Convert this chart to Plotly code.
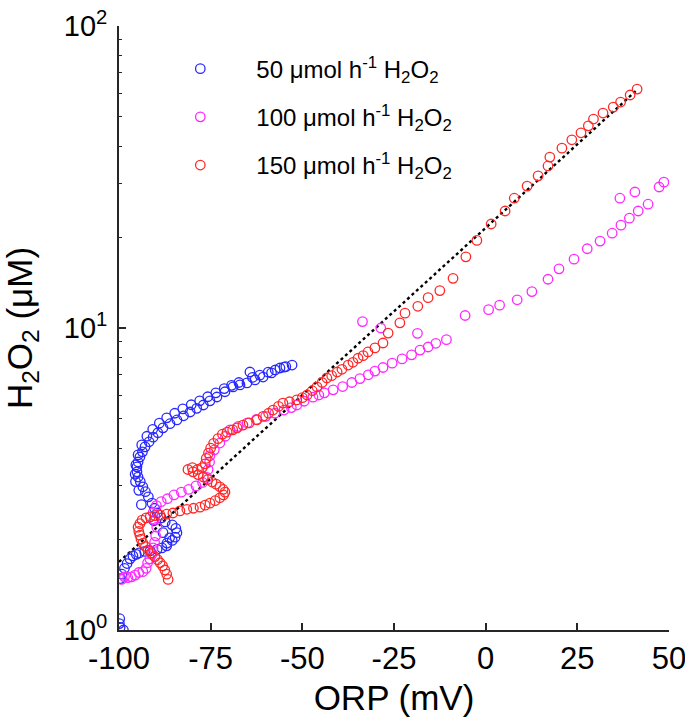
import plotly.graph_objects as go

# ---- data ----
blue_x = [-99.8, -99.9, -99.7, -98.8,
          -99.6, -99.2, -98.5, -97.8, -97.0, -96.2, -95.3, -94.5, -93.0, -91.5, -89.6, -88.3, -87.0,
          -86.9, -85.5, -84.7, -84.2, -84.5, -85.5, -87.4, -88.5, -89.6, -90.3, -91.0, -92.0, -92.8,
          -93.5, -94.2, -94.8, -95.1, -95.1, -94.8, -94.3, -93.6, -92.9, -91.8, -90.7, -89.4, -88.0,
          -86.1, -84.2, -82.4, -80.6, -78.8, -77.0, -75.2, -73.3, -71.1, -68.9, -67.0, -65.1, -62.9,
          -60.7, -58.4, -56.1, -54.5, -52.8, -64.3,
          -95.6, -95.4, -94.8, -93.8, -92.4, -90.8, -89.0, -87.0, -84.8, -82.6, -80.3, -78.0, -75.8,
          -73.6, -71.3, -69.3, -67.3, -63.6, -61.6, -59.3, -57.4, -55.0,
          -93.9, -94.6, -95.5, -90.5, -88.0, -86.2]
blue_y = [1.09, 1.05, 1.02, 1.00,
          1.48, 1.53, 1.60, 1.66, 1.72, 1.76, 1.78, 1.80, 1.82, 1.83, 1.85, 1.87, 1.90,
          1.94, 1.98, 2.03, 2.10, 2.17, 2.23, 2.28, 2.35, 2.44, 2.53, 2.63, 2.76, 2.87,
          2.98, 3.10, 3.21, 3.34, 3.47, 3.60, 3.74, 3.89, 4.04, 4.20, 4.35, 4.50, 4.67,
          4.82, 4.96, 5.12, 5.27, 5.42, 5.56, 5.74, 5.91, 6.15, 6.38, 6.48, 6.58, 6.73,
          6.88, 7.10, 7.37, 7.45, 7.54, 7.15,
          3.28, 3.52, 3.80, 4.10, 4.38, 4.62, 4.84, 5.04, 5.22, 5.40, 5.57, 5.74, 5.92,
          6.10, 6.30, 6.46, 6.60, 6.86, 6.98, 7.14, 7.26, 7.42,
          2.60, 2.90, 3.10, 2.30, 2.10, 2.02]

magenta_x = [-99.3, -98.5, -97.6, -96.6, -95.6, -94.6, -93.5, -92.6, -92.2, -91.6, -91.0, -90.7,
             -90.3, -90.0, -89.7, -90.4, -90.7, -89.8, -88.5, -86.8, -85.0, -83.0, -81.0, -79.0,
             -77.2, -76.0, -75.7, -75.3, -75.2, -74.0, -72.5, -71.0, -69.7, -67.5, -65.0, -62.5,
             -60.0, -57.5, -55.0, -53.0, -51.5, -49.5, -47.1, -45.5, -44.0, -41.6, -39.0, -36.5,
             -34.3, -32.0, -30.2, -28.0, -25.5, -22.8, -20.2, -17.9, -15.7, -13.6, -10.7,
             -33.6, -28.6, -18.6,
             -5.6, 0.8, 3.8, 8.6, 12.6, 17.0, 20.0, 24.1, 27.7, 31.2, 34.5, 36.9, 39.2, 41.6,
             44.3, 47.3, 48.6, 36.6, 40.7]
magenta_y = [1.47, 1.50, 1.49, 1.50, 1.52, 1.55, 1.56, 1.60, 1.67, 1.72, 1.78, 1.87,
             1.95, 2.05, 2.19, 2.32, 2.45, 2.58, 2.66, 2.72, 2.80, 2.86, 2.92, 3.00,
             3.08, 3.20, 3.40, 3.60, 3.78, 3.95, 4.16, 4.38, 4.60, 4.72, 4.85, 4.98,
             5.10, 5.22, 5.35, 5.45, 5.56, 5.72, 5.90, 6.00, 6.10, 6.24, 6.40, 6.60,
             6.80, 7.00, 7.20, 7.40, 7.65, 7.90, 8.15, 8.45, 8.65, 8.90, 9.15,
             10.5, 10.0, 9.6,
             11.0, 11.5, 11.9, 12.4, 13.2, 14.5, 15.7, 16.9, 18.3, 19.4, 20.6, 21.9, 23.1, 24.4,
             25.7, 29.3, 30.4, 26.9, 28.2]

red_x = [-86.6, -87.0, -87.5, -88.1, -88.8, -89.5, -90.2, -91.2, -92.1, -92.8, -93.5, -94.0,
         -94.3, -94.6, -94.8, -94.3, -93.7, -92.6, -91.5, -90.2, -88.8, -87.0, -85.3, -83.4,
         -81.5, -79.7, -77.9, -76.5, -75.2, -73.8, -72.5, -71.5, -71.1, -71.6, -72.5, -73.5,
         -74.6, -75.8, -77.0, -78.4, -79.8, -81.2, -80.0, -78.6, -77.3, -76.5, -76.2, -75.6,
         -75.0, -74.2, -73.0, -71.8, -70.5, -69.0, -67.8, -66.2, -64.5, -62.4, -60.7, -59.2,
         -58.0, -56.5, -55.3, -53.5, -51.5, -50.0, -48.7, -47.3, -46.0, -44.6, -43.3, -42.0,
         -40.5, -39.2, -37.5, -36.2, -34.8, -33.4, -32.1, -30.2, -28.0, -26.6, -23.4, -22.0,
         -18.5, -15.7, -12.5, -8.9, -5.4, -2.4, 1.5, 5.3, 7.8, 11.3, 14.3, 17.0, 17.5, 20.8,
         23.5, 26.0, 28.0, 29.4, 32.0, 34.8, 36.8, 39.4, 41.3]
red_y = [1.47, 1.53, 1.58, 1.63, 1.67, 1.71, 1.75, 1.80, 1.84, 1.89, 1.94, 2.00,
         2.06, 2.12, 2.19, 2.25, 2.31, 2.35, 2.37, 2.39, 2.40, 2.42, 2.44, 2.48,
         2.51, 2.53, 2.55, 2.59, 2.63, 2.68, 2.74, 2.80, 2.86, 2.92, 2.98, 3.04,
         3.09, 3.15, 3.21, 3.27, 3.34, 3.40, 3.45, 3.40, 3.45, 3.55, 3.70, 3.85,
         4.00, 4.15, 4.30, 4.45, 4.52, 4.60, 4.67, 4.77, 4.85, 4.96, 5.10, 5.22,
         5.35, 5.50, 5.64, 5.70, 5.78, 5.88, 6.00, 6.20, 6.38, 6.60, 6.83, 6.95,
         7.15, 7.30, 7.54, 7.70, 7.94, 8.10, 8.33, 8.59, 8.92, 9.62, 10.4, 11.2,
         11.8, 12.6, 13.3, 14.6, 17.2, 19.5, 22.1, 24.4, 26.9, 29.5, 31.9, 34.4, 36.8, 39.4,
         42.0, 44.3, 46.7, 49.2, 51.5, 53.9, 56.0, 59.1, 61.8]

fit_x = [-100, 41]
fit_y = [1.68, 61.0]

SUB2 = "<sub>2</sub>"
SUPM1 = "<sup>-1</sup>"
series_names = ["50 μmol h" + SUPM1 + " H" + SUB2 + "O" + SUB2,
                "100 μmol h" + SUPM1 + " H" + SUB2 + "O" + SUB2,
                "150 μmol h" + SUPM1 + " H" + SUB2 + "O" + SUB2]
series_colors = ["rgb(40,40,255)", "rgb(255,40,255)", "rgb(255,40,40)"]

x_ticks = [-100, -75, -50, -25, 0, 25, 50]
x_ticktext = ["-100", "-75", "-50", "-25", "0", "25", "50"]
y_ticks = [1, 10, 100]
y_ticktext = ["10<sup>0</sup>", "10<sup>1</sup>", "10<sup>2</sup>"]
y_minor = [2, 3, 4, 5, 6, 7, 8, 9, 20, 30, 40, 50, 60, 70, 80, 90]

FONT = "Liberation Sans, Arial, Helvetica, sans-serif"

fig = go.Figure()
fig.add_trace(go.Scatter(x=fit_x, y=fit_y, mode="lines", showlegend=False,
                         line=dict(color="black", width=2.4, dash="dot")))
for name, xs, ys, col in zip(series_names, [blue_x, magenta_x, red_x],
                             [blue_y, magenta_y, red_y], series_colors):
    fig.add_trace(go.Scatter(x=xs, y=ys, mode="markers", name=name, legendgroup=name,
                             marker=dict(symbol="circle-open", size=9.5, color=col,
                                         line=dict(width=1.3, color=col))))

fig.update_layout(
    width=685, height=719,
    margin=dict(l=119, r=16, t=26, b=89),
    paper_bgcolor="white", plot_bgcolor="white",
    font=dict(family=FONT, color="black"),
    showlegend=True,
    legend=dict(x=0.046, xanchor="left", y=0.966, yanchor="top",
                bgcolor="rgba(0,0,0,0)", font=dict(size=24, family=FONT),
                itemwidth=102, tracegroupgap=14),
    xaxis=dict(range=[-100, 50], tickvals=x_ticks, ticktext=x_ticktext, ticks="inside", ticklen=7,
               tickwidth=1.5, tickcolor="#262626", showline=True, linecolor="#262626",
               linewidth=1.6, showgrid=False, zeroline=False, automargin=False,
               ticklabeloverflow="allow",
               tickfont=dict(size=31), title=dict(text="ORP (mV)", font=dict(size=35), standoff=10)),
    yaxis=dict(type="log", range=[0, 2], tickvals=y_ticks, ticktext=y_ticktext,
               ticks="inside", ticklen=7, tickwidth=1.5, tickcolor="#262626",
               showline=True, linecolor="#262626", linewidth=1.6, showgrid=False,
               zeroline=False, tickfont=dict(size=29), automargin=False,
               ticklabeloverflow="allow", ticklabelstandoff=4,
               minor=dict(tickvals=y_minor, ticks="inside", ticklen=3.5, tickwidth=1.2,
                          tickcolor="#262626", showgrid=False),
               title=dict(text="H<sub>2</sub>O<sub>2</sub> (μM)", font=dict(size=35), standoff=34)),
)

fig.write_html("out.html", config={"displayModeBar": False},
               post_script="document.body.style.margin='0';document.body.style.overflow='hidden';")
